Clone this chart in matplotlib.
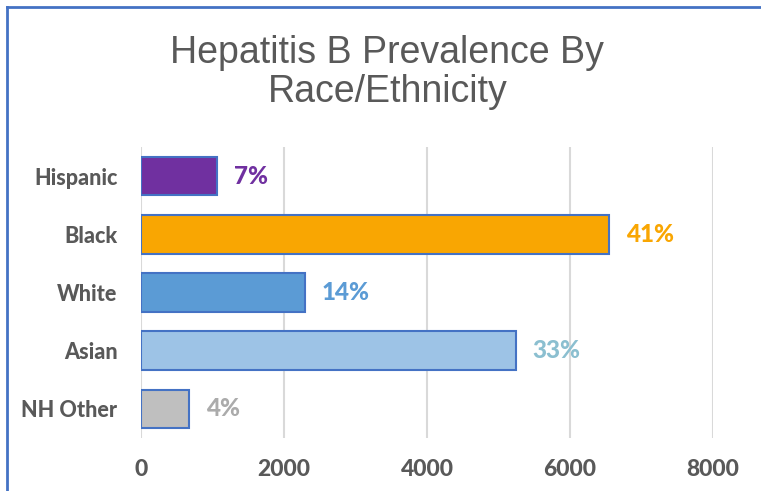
import matplotlib.pyplot as plt

# Hepatitis B prevalence by race/ethnicity (horizontal bars)
categories = ["Hispanic", "Black", "White", "Asian", "NH Other"]
values = [1065, 6550, 2289, 5238, 673]
pct_labels = ["7%", "41%", "14%", "33%", "4%"]
bar_colors = ["#7030A0", "#F9A602", "#5B9BD5", "#9DC3E6", "#BFBFBF"]
label_colors = ["#7030A0", "#F9A602", "#5B9BD5", "#8BBFD0", "#ABABAB"]
xticks = [0, 2000, 4000, 6000, 8000]

GRAY = "#595959"
WEIGHT = 900

fig = plt.figure(figsize=(7.61, 4.91), dpi=100)
ax = fig.add_axes([141 / 761, 53 / 491, 572 / 761, 291 / 491])

ypos = list(range(len(categories)))
ax.barh(ypos, values, height=0.66, color=bar_colors,
        edgecolor="#4472C4", linewidth=1.5, zorder=3)

for y, v, txt, c in zip(ypos, values, pct_labels, label_colors):
    ax.annotate(txt, xy=(v, y), xytext=(12, 0), textcoords="offset points",
                ha="left", va="center", fontsize=17.5, fontweight=WEIGHT,
                family="Lato", color=c)

ax.set_xlim(0, 8000)
ax.set_ylim(len(categories) - 0.5, -0.5)
ax.set_xticks(xticks)
ax.set_xticklabels([str(t) for t in xticks])
ax.set_yticks(ypos)
ax.set_yticklabels(categories)

ax.grid(axis="x", color="#D9D9D9", linewidth=1.5, zorder=0)
ax.set_axisbelow(True)
for s in ax.spines.values():
    s.set_visible(False)

ax.tick_params(axis="x", length=0, pad=15, labelsize=16.5, labelcolor=GRAY)
ax.tick_params(axis="y", length=0, pad=17, labelsize=15.5, labelcolor=GRAY)
for lbl in ax.get_xticklabels() + ax.get_yticklabels():
    lbl.set_family("Lato")
    lbl.set_fontweight(WEIGHT)

fig.text(0.509, 0.852, "Hepatitis B Prevalence By\nRace/Ethnicity",
         ha="center", va="center", fontsize=27, color=GRAY,
         family="Liberation Sans", linespacing=1.12)

# chart border (left and top only visible)
fig.add_artist(plt.Line2D([7 / 761, 7 / 761], [0, 1 - 7 / 491],
                          transform=fig.transFigure, color="#4472C4", linewidth=2))
fig.add_artist(plt.Line2D([7 / 761, 1], [1 - 7 / 491, 1 - 7 / 491],
                          transform=fig.transFigure, color="#4472C4", linewidth=2))

fig.savefig("out.png", dpi=100)
